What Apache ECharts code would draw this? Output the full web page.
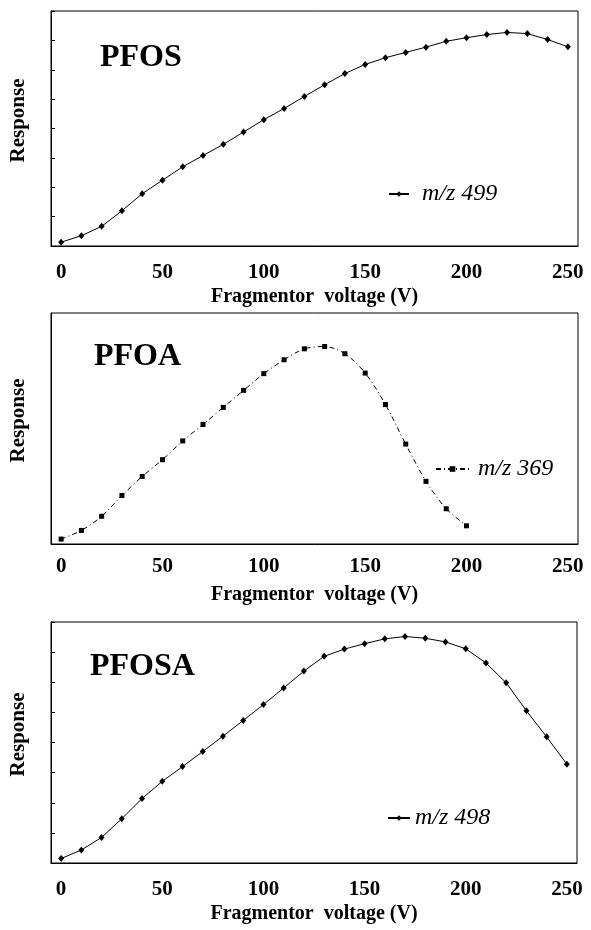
<!DOCTYPE html>
<html>
<head>
<meta charset="utf-8">
<script src="https://cdn.jsdelivr.net/npm/echarts@6/dist/echarts.min.js"></script>
<style>
  html, body { margin: 0; padding: 0; background: #fff; }
  #main { width: 591px; height: 930px; }
</style>
</head>
<body>
<div id="main"></div>
<script>
// fragmentor voltage categories (V)
var voltage = ['0','10','20','30','40','50','60','70','80','90','100','110','120',
  '130','140','150','160','170','180','190','200','210','220','230','240','250'];

// relative response (arbitrary units, axis 0..8)
var pfos = [0.13,0.35,0.67,1.20,1.78,2.24,2.70,3.08,3.46,3.88,4.30,4.68,5.09,
  5.49,5.87,6.18,6.41,6.59,6.77,6.97,7.09,7.20,7.27,7.23,7.03,6.78];
var pfoa = [0.17,0.47,0.96,1.68,2.34,2.92,3.57,4.14,4.73,5.32,5.90,6.38,6.76,
  6.84,6.59,5.92,4.83,3.46,2.17,1.22,0.63];
var pfosa = [0.15,0.43,0.85,1.47,2.14,2.71,3.20,3.70,4.21,4.73,5.26,5.81,6.37,
  6.86,7.10,7.28,7.44,7.52,7.46,7.34,7.11,6.64,5.98,5.05,4.19,3.28];

var compounds = ['PFOS', 'PFOA', 'PFOSA'];
var ions = ['m/z 499', 'm/z 369', 'm/z 498'];

var serif = '"Liberation Serif", "Times New Roman", serif';

var grids = [
  {left: 50, top: 11, width: 528, height: 235},
  {left: 50, top: 313, width: 528, height: 231},
  {left: 50, top: 622, width: 527, height: 241}
];
grids.forEach(function (g) {
  g.show = true;
  g.borderColor = '#000';
  g.borderWidth = 1;
});

function xAxisFor(i, labelMargin) {
  return {
    type: 'category',
    gridIndex: i,
    data: voltage,
    boundaryGap: true,
    axisLine: {lineStyle: {color: '#000', width: 1}},
    axisTick: {inside: true, length: 4, interval: 0, lineStyle: {color: '#000'}},
    axisLabel: {
      interval: 4, margin: labelMargin, color: '#000',
      fontFamily: serif, fontWeight: 'bold', fontSize: 21
    },
    name: 'Fragmentor  voltage (V)',
    nameLocation: 'middle',
    nameGap: 41,
    nameTextStyle: {color: '#000', fontFamily: serif, fontWeight: 'bold', fontSize: 20}
  };
}

function yAxisFor(i, ticks) {
  return {
    type: 'value',
    gridIndex: i,
    min: 0, max: 8, interval: 1,
    axisLine: {show: true, lineStyle: {color: '#000', width: 1}},
    axisTick: {show: ticks, inside: true, length: 4, lineStyle: {color: '#000'}},
    axisLabel: {show: false},
    splitLine: {show: false},
    name: 'Response',
    nameLocation: 'middle',
    nameRotate: 90,
    nameGap: 22,
    nameTextStyle: {
      color: '#000', fontFamily: serif, fontWeight: 'bold', fontSize: 21,
      padding: [0, 0, 0, 16]
    }
  };
}

var titlePos = [[100, 42], [94, 341], [90, 651]];
var legendPos = [
  {left: 388, top: 182, itemWidth: 20, pad: 8},
  {left: 435, top: 457, itemWidth: 33, pad: 4},
  {left: 387, top: 806, itemWidth: 22, pad: 0}
];

var option = {
  animation: false,
  backgroundColor: '#fff',
  grid: grids,
  title: compounds.map(function (c, i) {
    return {
      text: c, left: titlePos[i][0], top: titlePos[i][1], padding: 0,
      textStyle: {color: '#000', fontFamily: serif, fontWeight: 'bold', fontSize: 32}
    };
  }),
  legend: ions.map(function (n, i) {
    var p = legendPos[i];
    return {
      data: [n], left: p.left, top: p.top, padding: 0,
      itemWidth: p.itemWidth, itemHeight: 7,
      textStyle: {
        color: '#000', fontFamily: serif, fontStyle: 'italic', fontSize: 24,
        padding: [0, 0, 0, p.pad]
      }
    };
  }),
  xAxis: [xAxisFor(0, 16), xAxisFor(1, 12), xAxisFor(2, 16)],
  yAxis: [yAxisFor(0, true), yAxisFor(1, false), yAxisFor(2, true)],
  series: [
    {
      name: ions[0], type: 'line', xAxisIndex: 0, yAxisIndex: 0,
      data: pfos, symbol: 'diamond', symbolSize: [6, 7],
      lineStyle: {color: '#000', width: 1}, itemStyle: {color: '#000'}
    },
    {
      name: ions[1], type: 'line', xAxisIndex: 1, yAxisIndex: 1,
      data: pfoa, symbol: 'rect', symbolSize: 5, smooth: 0.3,
      lineStyle: {color: '#000', width: 1, type: [5, 3, 1, 3]}, itemStyle: {color: '#000'}
    },
    {
      name: ions[2], type: 'line', xAxisIndex: 2, yAxisIndex: 2,
      data: pfosa, symbol: 'diamond', symbolSize: [6, 7],
      lineStyle: {color: '#000', width: 1}, itemStyle: {color: '#000'}
    }
  ]
};

var myChart = echarts.init(document.getElementById('main'));
myChart.setOption(option);
</script>
</body>
</html>
